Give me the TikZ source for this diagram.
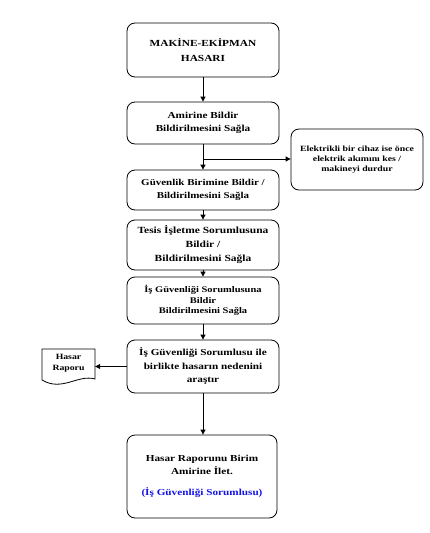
\documentclass[tikz,border=0pt]{standalone}
\usepackage{fontspec}
\setmainfont{Liberation Serif}[FakeStretch=1.22]
\usetikzlibrary{arrows.meta}
\definecolor{bluetxt}{RGB}{20,20,230}
\tikzset{
  flowbox/.style={draw, line width=0.8pt, rounded corners=8pt, align=center, font=\bfseries, inner sep=2pt},
  conn/.style={line width=0.8pt, -{Triangle[length=5pt,width=5pt]}},
  plainline/.style={line width=0.8pt},
}
\begin{document}
\begin{tikzpicture}[x=1pt,y=-1pt]
\useasboundingbox (0,0) rectangle (429,533);
\node[flowbox, minimum width=152pt, minimum height=54pt, font=\bfseries\fontsize{9.3}{15}\selectfont] (b1) at (203,50) {MAKİNE-EKİPMAN\\HASARI};
\node[flowbox, minimum width=152pt, minimum height=42pt, font=\bfseries\fontsize{9.2}{12.5}\selectfont] (b2) at (203,123) {Amirine Bildir\\Bildirilmesini Sağla};
\node[flowbox, minimum width=152pt, minimum height=40pt, font=\bfseries\fontsize{9}{12.5}\selectfont] (b3) at (203,190) {Güvenlik Birimine Bildir /\\Bildirilmesini Sağla};
\node[flowbox, minimum width=152pt, minimum height=50pt, font=\bfseries\fontsize{9.4}{14}\selectfont] (b4) at (203,245) {Tesis İşletme Sorumlusuna\\Bildir /\\Bildirilmesini Sağla};
\node[flowbox, minimum width=152pt, minimum height=47pt, font=\bfseries\fontsize{8.6}{10.3}\selectfont] (b5) at (203,300.5) {İş Güvenliği Sorumlusuna\\Bildir\\Bildirilmesini Sağla};
\node[flowbox, minimum width=152pt, minimum height=53pt, font=\bfseries\fontsize{9.2}{13.5}\selectfont] (b6) at (203,366.5) {İş Güvenliği Sorumlusu ile\\birlikte hasarın nedenini\\araştır};
\node[flowbox, minimum width=150pt, minimum height=83pt, font=\bfseries\fontsize{9.2}{12.5}\selectfont] (b7) at (202,476.5) {Hasar Raporunu Birim\\Amirine İlet.\\[9pt]\textcolor{bluetxt}{(İş Güvenliği Sorumlusu)}};
\node[flowbox, minimum width=132pt, minimum height=61pt, font=\bfseries\fontsize{8}{10}\selectfont] (side) at (357,159.5) {Elektrikli bir cihaz ise önce\\elektrik akımını kes /\\makineyi durdur};
\node[align=center, font=\bfseries\fontsize{8}{11}\selectfont, minimum width=53pt, minimum height=36pt] (doc) at (68.5,363) {Hasar\\Raporu};
\draw[plainline] (42,349) -- (95,349) -- (95,379) .. controls (78,374) and (62,392) .. (42,380) -- cycle;
\coordinate (br) at (203,159);
\draw[conn] (b1) -- (b2);
\draw[conn] (b2) -- (b3);
\draw[conn] (br) -- (side.west |- br);
\draw[conn] (b3) -- (b4);
\draw[conn] (b4) -- (b5);
\draw[conn] (b5) -- (b6);
\draw[conn] (b6.south -| br) -- (b7.north -| br);
\draw[conn] (b6.west) -- (doc.east |- b6.west);
\end{tikzpicture}
\end{document}
